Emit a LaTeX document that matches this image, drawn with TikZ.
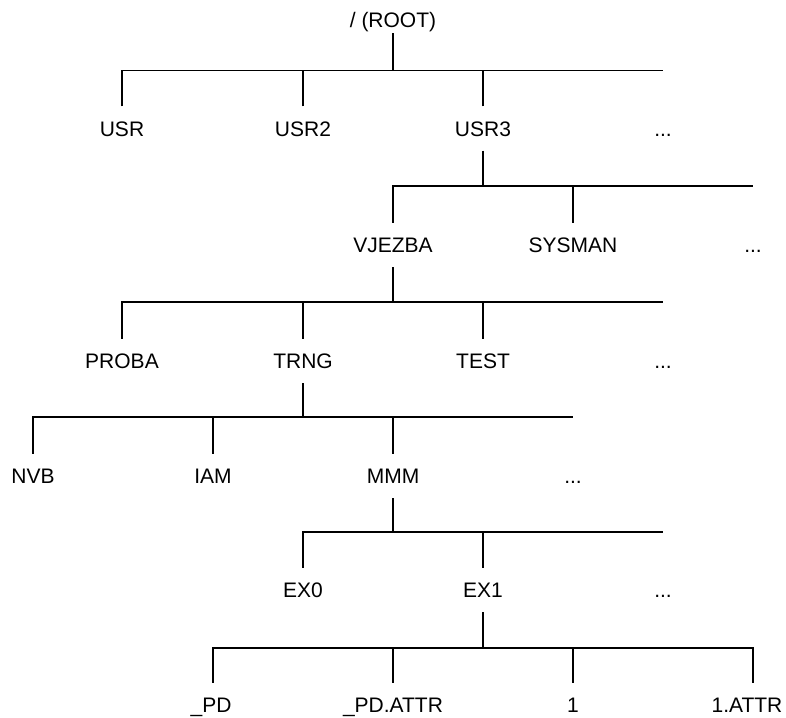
\documentclass[tikz,border=0pt]{standalone}
\usepackage{fontspec}
\setmainfont{Liberation Sans}
\begin{document}
\begin{tikzpicture}[x=1pt,y=-1pt,
  lbl/.style={font=\fontsize{21}{21}\selectfont, inner sep=0pt, text height=15pt, text depth=0pt, minimum height=44pt, anchor=center},
  rootlbl/.style={lbl, minimum height=25pt},
  conn/.style={line width=1.2pt, black}]
\useasboundingbox (0,0) rectangle (786,717);
% labels
\node[rootlbl] (root) at (393,20.5) {/ (ROOT)};
\node[lbl] (usr) at (122,128.5) {USR};
\node[lbl] (usr2) at (303,128.5) {USR2};
\node[lbl] (usr3) at (483,128.5) {USR3};
\node[lbl] (dots1) at (663,128.5) {...};
\node[lbl] (vjezba) at (393,245) {VJEZBA};
\node[lbl] (sysman) at (573,245) {SYSMAN};
\node[lbl] (dots2) at (753,245) {...};
\node[lbl] (proba) at (122,361) {PROBA};
\node[lbl] (trng) at (303,361) {TRNG};
\node[lbl] (test) at (483,361) {TEST};
\node[lbl] (dots3) at (663,361) {...};
\node[lbl] (nvb) at (33,476) {NVB};
\node[lbl] (iam) at (213,476) {IAM};
\node[lbl] (mmm) at (393,476) {MMM};
\node[lbl] (dots4) at (573,476) {...};
\node[lbl] (ex0) at (303,590) {EX0};
\node[lbl] (ex1) at (483,590) {EX1};
\node[lbl] (dots5) at (663,590) {...};
\node[lbl] (pd) at (211,705) {\_PD};
\node[lbl] (pdattr) at (393,705) {\_PD.ATTR};
\node[lbl] (one) at (573,705) {1};
\node[lbl] (oneattr) at (747,705) {1.ATTR};
% junctions
\coordinate (h1) at (393,70.5);
\coordinate (h2) at (483,186);
\coordinate (h3) at (393,302);
\coordinate (h4) at (303,417);
\coordinate (h5) at (393,532);
\coordinate (h6) at (483,648);
\coordinate (e6) at (753,648);
% level 1
\draw[conn] (root.south) -- (h1);
\draw[conn] (usr.north) |- (dots1.north |- h1);
\draw[conn] (usr2.north) -- (usr2.north |- h1);
\draw[conn] (usr3.north) -- (usr3.north |- h1);
% level 2
\draw[conn] (usr3.south) -- (h2);
\draw[conn] (vjezba.north) |- (dots2.north |- h2);
\draw[conn] (sysman.north) -- (sysman.north |- h2);
% level 3
\draw[conn] (vjezba.south) -- (h3);
\draw[conn] (proba.north) |- (dots3.north |- h3);
\draw[conn] (trng.north) -- (trng.north |- h3);
\draw[conn] (test.north) -- (test.north |- h3);
% level 4
\draw[conn] (trng.south) -- (h4);
\draw[conn] (nvb.north) |- (dots4.north |- h4);
\draw[conn] (iam.north) -- (iam.north |- h4);
\draw[conn] (mmm.north) -- (mmm.north |- h4);
% level 5
\draw[conn] (mmm.south) -- (h5);
\draw[conn] (ex0.north) |- (dots5.north |- h5);
\draw[conn] (ex1.north) -- (ex1.north |- h5);
% level 6
\draw[conn] (ex1.south) -- (h6);
\draw[conn] ([xshift=2pt]pd.north) |- (e6) -- (e6 |- oneattr.north);
\draw[conn] (pdattr.north) -- (pdattr.north |- h6);
\draw[conn] (one.north) -- (one.north |- h6);
\end{tikzpicture}
\end{document}
